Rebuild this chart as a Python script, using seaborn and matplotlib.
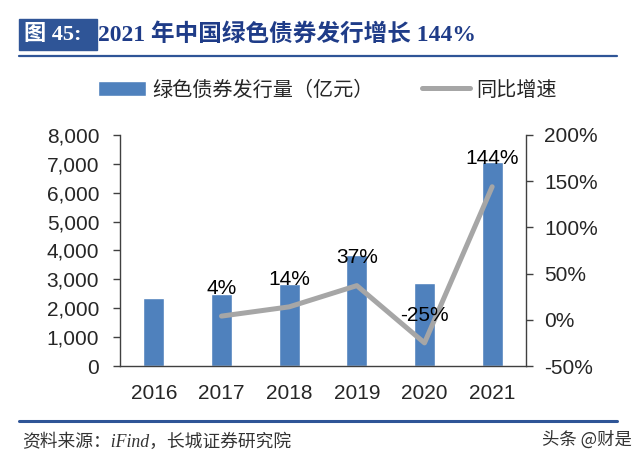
import numpy as np
import pandas as pd
import matplotlib
matplotlib.use('Agg')
import matplotlib.pyplot as plt
import matplotlib.ticker as mticker
from matplotlib.lines import Line2D
from matplotlib.patches import Rectangle
import seaborn as sns

years = ['2016', '2017', '2018', '2019', '2020', '2021']
issuance = [2370, 2480, 2830, 3850, 2890, 7050]          # 亿元
growth = [np.nan, 0.04, 0.14, 0.37, -0.25, 1.44]          # 同比增速
growth_labels = ['', '4%', '14%', '37%', '-25%', '144%']

bar_color = '#4F81BD'
line_color = '#A6A6A6'
navy = '#2F5597'

sns.set_style('white')
plt.rcParams['font.family'] = ['Liberation Sans', 'Noto Sans CJK SC', 'DejaVu Sans']
plt.rcParams['axes.unicode_minus'] = False

df = pd.DataFrame({'year': years, 'issuance': issuance, 'growth': growth})
df['pos'] = range(len(df))

W, H = 640, 461
fig = plt.figure(figsize=(6.4, 4.61), dpi=100)
ax = fig.add_axes([120 / W, 1 - 366 / H, 406 / W, 231 / H])
ax2 = ax.twinx()

sns.barplot(data=df, x='year', y='issuance', ax=ax, color=bar_color,
            saturation=1, width=0.31, label='绿色债券发行量（亿元）')
sns.lineplot(data=df.dropna(), x='pos', y='growth', ax=ax2, color=line_color,
             linewidth=3.6, label='同比增速', legend=False)

ax.set_xlim(-0.5, len(years) - 0.5)
ax.set_ylim(0, 8000)
ax.set_yticks(range(0, 8001, 1000))
ax.yaxis.set_major_formatter(mticker.FuncFormatter(lambda v, p: f'{int(v):,}'))
ax2.set_ylim(-0.5, 2.0)
ax2.set_yticks(np.arange(-0.5, 2.01, 0.5))
ax2.yaxis.set_major_formatter(mticker.FuncFormatter(lambda v, p: f'{v * 100:.0f}%'))

ax.set_xlabel('')
ax.set_ylabel('')
ax2.set_xlabel('')
ax2.set_ylabel('')

# x ticks sit between categories
ax.set_xticks(np.arange(-0.5, len(years), 1.0), minor=True)
ax.tick_params(axis='x', which='major', length=0, labelsize=15, pad=13)
ax.tick_params(axis='x', which='minor', length=5, width=1, color='#404040')
ax.tick_params(axis='y', length=5, width=1, color='#404040', labelsize=15, pad=10,
               left=True)
ax2.tick_params(axis='y', length=5, width=1, color='#404040', labelsize=15, pad=8,
                right=True)

for a in (ax, ax2):
    a.spines['top'].set_visible(False)
    for s in ('left', 'right', 'bottom'):
        a.spines[s].set_color('#404040')
        a.spines[s].set_linewidth(1)
ax.spines['right'].set_visible(False)
ax2.spines['left'].set_visible(False)
ax2.spines['bottom'].set_visible(False)

for p, g, t in zip(df['pos'], growth, growth_labels):
    if t:
        ax2.annotate(t, (p, g), xytext=(0, 20), textcoords='offset points',
                     ha='center', va='center', fontsize=15, color='black')

# legend
h1, l1 = ax.get_legend_handles_labels()
h2, l2 = ax2.get_legend_handles_labels()
if ax.get_legend():
    ax.get_legend().remove()
leg = fig.legend(h1 + h2, l1 + l2, loc='center', bbox_to_anchor=(327 / W, 1 - 90 / H),
                 ncol=2, frameon=False, handlelength=2.4,
                 handleheight=0.75, handletextpad=0.3, columnspacing=2.4,
                 prop={'family': ['Noto Sans CJK SC'], 'size': 14.5})

# title block
fig.patches.append(Rectangle((19 / W, 1 - 50 / H), 78 / W, 31 / H,
                             transform=fig.transFigure, color=navy, zorder=0))
fig.text(24 / W, 1 - 35 / H, '图 45:', color='white', fontsize=16, fontweight='bold',
         va='center', ha='left', family=['Liberation Serif', 'Noto Sans CJK SC'])
fig.text(98 / W, 1 - 35 / H, '2021 年中国绿色债券发行增长 144%', color='#1F3C88',
         fontsize=17, fontweight='bold', va='center', ha='left',
         family=['Liberation Serif', 'Noto Sans CJK SC'])
fig.add_artist(Line2D([19 / W, 617 / W], [1 - 56 / H, 1 - 56 / H], color=navy,
                      linewidth=1.6, transform=fig.transFigure))
fig.add_artist(Line2D([19 / W, 617 / W], [1 - 421 / H, 1 - 421 / H], color=navy,
                      linewidth=2.2, transform=fig.transFigure))

fig.text(22 / W, 1 - 442 / H, '资料来源：iFind，长城证券研究院', color='#333333',
         fontsize=12.8, va='center', ha='left', style='italic',
         family=['Liberation Serif', 'Noto Sans CJK SC'])
fig.text(632 / W, 1 - 440 / H, '头条 @财是', color='#333333', fontsize=12.5,
         va='center', ha='right', family=['Noto Sans CJK SC'])

fig.savefig('out.png', dpi=100)
